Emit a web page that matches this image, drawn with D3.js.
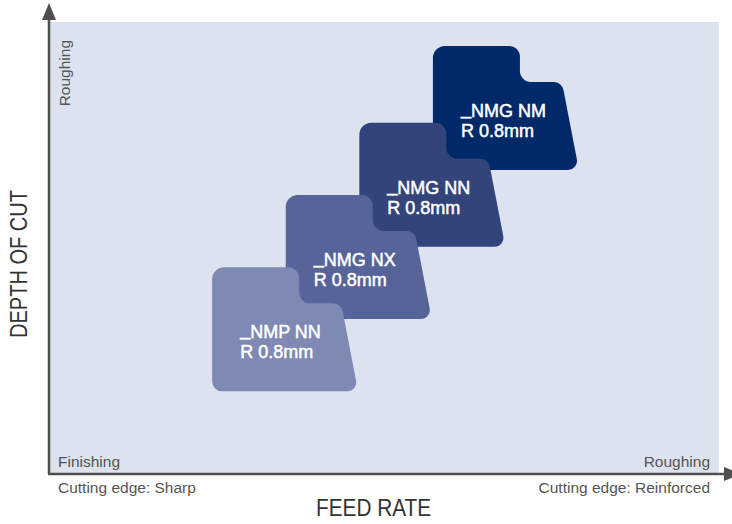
<!DOCTYPE html>
<html>
<head>
<meta charset="utf-8">
<script src="https://cdn.jsdelivr.net/npm/d3@7"></script>
<style>
  body { margin: 0; background: #fff; }
  text { font-family: "Liberation Sans", Arial, sans-serif; }
</style>
</head>
<body>
<script>
// insert grades, lightest (finishing) to darkest (roughing)
var grades = ["_NMP NN", "_NMG NX", "_NMG NN", "_NMG NM"];
var radii = ["R 0.8mm", "R 0.8mm", "R 0.8mm", "R 0.8mm"];
var feedRate = [3.5, 4.6, 5.7, 6.8];      // 0..10 along x
var depthOfCut = [3.2, 4.8, 6.4, 8.1];    // 0..10 along y

var xEnds = ["Finishing", "Roughing"];
var edgeLabels = ["Cutting edge: Sharp", "Cutting edge: Reinforced"];

var margin = { top: 22, right: 13, bottom: 50, left: 50 },
  width = 732 - margin.left - margin.right,
  height = 524 - margin.top - margin.bottom;

var x = d3.scaleLinear().domain([0, 10]).range([0, width]);
var y = d3.scaleLinear().domain([0, 10]).range([height, 0]);

var color = d3.scaleOrdinal()
  .domain(grades)
  .range(["#7e89b4", "#56649a", "#324479", "#00296a"]);

var svg = d3.select("body").append("svg")
  .attr("width", 732)
  .attr("height", 524);

var g = svg.append("g")
  .attr("transform", "translate(" + margin.left + "," + margin.top + ")");

// plot background
g.append("rect")
  .attr("width", width)
  .attr("height", height)
  .attr("fill", "#dce2ee");

// insert outline: a rounded block with a step cut in the top right corner
var corners = [[0, 0], [87, 0], [87, 36], [129, 36], [146, 124], [0, 124]];
var radius = [12, 11, 11, 10, 9, 10];

function insertPath() {
  var p = d3.path();
  var n = corners.length;
  var a = corners[n - 1], b = corners[0];
  p.moveTo((a[0] + b[0]) / 2, (a[1] + b[1]) / 2);
  for (var i = 0; i < n; i++) {
    var c = corners[i], d = corners[(i + 1) % n];
    p.arcTo(c[0], c[1], d[0], d[1], radius[i]);
  }
  p.closePath();
  return p.toString();
}

var idx = d3.range(grades.length).reverse(); // darkest drawn first

var inserts = g.selectAll("g.insert")
  .data(idx)
  .enter().append("g")
  .attr("class", "insert")
  .attr("transform", function (i) {
    return "translate(" + (x(feedRate[i]) - 72) + "," + (y(depthOfCut[i]) - 62) + ")";
  });

inserts.append("path")
  .attr("d", insertPath())
  .attr("fill", function (i) { return color(grades[i]); });

function label(sel, yy) {
  return sel.append("text")
    .attr("x", 28)
    .attr("y", yy)
    .attr("fill", "#fff")
    .attr("stroke", "#fff")
    .attr("stroke-width", 0.5)
    .style("font-size", "18px");
}

// grade name: lift the underscore so it sits on the baseline
var t1 = label(inserts, 71);
t1.append("tspan")
  .attr("dy", -3)
  .text(function (i) { return grades[i].charAt(0); });
t1.append("tspan")
  .attr("dy", 3)
  .text(function (i) { return grades[i].slice(1); });

label(inserts, 91).text(function (i) { return radii[i]; });

// axes with arrow heads
var axisColor = "#4f4f4f";
g.append("line")
  .attr("x1", -1).attr("y1", height)
  .attr("x2", -1).attr("y2", -4)
  .attr("stroke", axisColor).attr("stroke-width", 2.5);
g.append("path")
  .attr("d", "M-8,-2 L6,-2 L-1,-19 Z")
  .attr("fill", axisColor);

g.append("line")
  .attr("x1", -2).attr("y1", height)
  .attr("x2", width + 6).attr("y2", height)
  .attr("stroke", axisColor).attr("stroke-width", 2.5);
g.append("path")
  .attr("d", "M" + (width + 5) + "," + (height - 7) + " L" + (width + 22) + "," + height +
    " L" + (width + 5) + "," + (height + 7) + " Z")
  .attr("fill", axisColor);

// end labels
g.selectAll("text.end")
  .data(xEnds)
  .enter().append("text")
  .attr("class", "end")
  .attr("x", function (d, i) { return i ? width - 9 : 8; })
  .attr("y", height - 7)
  .attr("text-anchor", function (d, i) { return i ? "end" : "start"; })
  .attr("fill", "#555")
  .style("font-size", "15.5px")
  .text(function (d) { return d; });

g.selectAll("text.edge")
  .data(edgeLabels)
  .enter().append("text")
  .attr("class", "edge")
  .attr("x", function (d, i) { return i ? width - 9 : 8; })
  .attr("y", height + 19)
  .attr("text-anchor", function (d, i) { return i ? "end" : "start"; })
  .attr("fill", "#555")
  .style("font-size", "15.5px")
  .text(function (d) { return d; });

g.append("text")
  .attr("transform", "translate(20,18) rotate(-90)")
  .attr("text-anchor", "end")
  .attr("fill", "#555")
  .style("font-size", "15.5px")
  .text("Roughing");

// axis titles
svg.append("text")
  .attr("x", 316)
  .attr("y", 516)
  .attr("textLength", 115)
  .attr("lengthAdjust", "spacingAndGlyphs")
  .attr("fill", "#333")
  .style("font-size", "23px")
  .text("FEED RATE");

svg.append("text")
  .attr("transform", "translate(27,338) rotate(-90)")
  .attr("textLength", 148)
  .attr("lengthAdjust", "spacingAndGlyphs")
  .attr("fill", "#333")
  .style("font-size", "23px")
  .text("DEPTH OF CUT");
</script>
</body>
</html>
